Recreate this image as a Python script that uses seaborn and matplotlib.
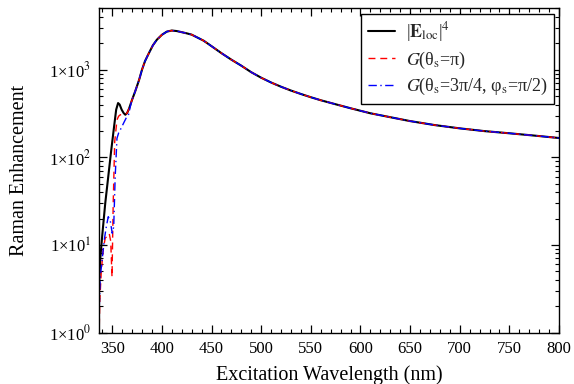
import numpy as np
import pandas as pd
import matplotlib
matplotlib.use("Agg")
import matplotlib.pyplot as plt
import matplotlib.ticker as mticker
import seaborn as sns

# ---- data ----
wl_tail = [370, 373, 377, 380, 383, 387, 391, 395, 400, 405, 410, 415, 420, 425,
           430, 442, 450, 460, 470, 480, 490, 500, 510, 520, 530, 540, 550, 560,
           575, 590, 610, 630, 650, 675, 700, 725, 750, 775, 800]
val_tail = [454, 560, 760, 1000, 1250, 1550, 1900, 2200, 2500, 2720, 2800, 2760,
            2680, 2600, 2512, 2145, 1856, 1544, 1301, 1111, 936, 810, 714, 639,
            578, 528, 485, 448, 403, 363, 318, 287, 259, 233, 214, 199, 188, 177, 166]

wl_E_head = [337, 338, 340, 343, 346, 349, 352, 354, 355.9, 357.5, 359.5, 361.5, 363.2, 365, 367]
E_head = [4, 7, 13, 30, 60, 120, 230, 350, 416, 400, 350, 320, 306, 320, 360]

wl_R_head = [337, 337.5, 339, 341, 343, 345, 347, 348.5, 349.8, 351, 352.5, 354.8, 356.5, 358.2, 361, 363.2, 365, 367]
R_head = [1.2, 2.3, 5, 9, 12, 12.5, 13.5, 11, 4.3, 30, 150, 268, 295, 306, 305, 308, 320, 360]

wl_B_head = [337, 338, 340, 342, 344, 346, 348, 350, 351.5, 353, 354.8, 356.5, 359, 361.5, 364, 366.6, 368]
B_head = [2, 4.3, 7, 11.4, 16, 21, 19, 13.6, 16, 60, 165, 190, 215, 246, 280, 310, 370]

labels = [r'|$\mathbf{E}_{\rm loc}$|$^4$',
          r'$G$(θ$_{\rm s}$=π)',
          r'$G$(θ$_{\rm s}$=3π/4, φ$_{\rm s}$=π/2)']
xticks = [350, 400, 450, 500, 550, 600, 650, 700, 750, 800]
ydecades = [0, 1, 2, 3]

# ---- style ----
sns.set_theme(style="ticks")
plt.rcParams['font.family'] = ['Liberation Serif', 'DejaVu Serif']
plt.rcParams['mathtext.fontset'] = 'stix'

fig = plt.figure(figsize=(5.74, 3.84), dpi=100)
ax = fig.add_axes([0.173, 0.134, 0.801, 0.844])

df_E = pd.DataFrame({'wl': wl_E_head + wl_tail, 'v': E_head + val_tail})
df_R = pd.DataFrame({'wl': wl_R_head + wl_tail, 'v': R_head + val_tail})
df_B = pd.DataFrame({'wl': wl_B_head + wl_tail, 'v': B_head + val_tail})

sns.lineplot(data=df_E, x='wl', y='v', ax=ax, color='black', lw=1.5,
             sort=False, estimator=None, label=labels[0])
sns.lineplot(data=df_R, x='wl', y='v', ax=ax, color='red', lw=1.0,
             sort=False, estimator=None, label=labels[1])
ax.lines[-1].set_linestyle((0, (5, 3.5)))
sns.lineplot(data=df_B, x='wl', y='v', ax=ax, color='blue', lw=1.0,
             sort=False, estimator=None, label=labels[2])
ax.lines[-1].set_linestyle((0, (6, 2.5, 1, 2.5)))

ax.set_yscale('log')
ax.set_xlim(337, 800)
ax.set_ylim(1, 5000)
ax.set_xticks(xticks)
ax.xaxis.set_minor_locator(mticker.MultipleLocator(10))
ax.set_yticks([10.0 ** d for d in ydecades])
ax.yaxis.set_major_formatter(mticker.FuncFormatter(
    lambda v, p: '1×10$^{%d}$' % int(round(np.log10(v)))))
ax.yaxis.set_minor_locator(mticker.LogLocator(base=10, subs=np.arange(2, 10)))
ax.yaxis.set_minor_formatter(mticker.NullFormatter())

ax.tick_params(which='both', direction='in', top=True, right=True, colors='black',
               labelsize=12)
ax.tick_params(which='major', length=6, width=0.9)
ax.tick_params(which='minor', length=3, width=0.8)
ax.tick_params(axis='x', which='major', pad=6)
ax.tick_params(axis='y', which='major', pad=6)
for s in ax.spines.values():
    s.set_color('black')
    s.set_linewidth(1.0)

ax.set_xlabel('Excitation Wavelength (nm)', fontsize=14.5, color='black', labelpad=6)
ax.set_ylabel('Raman Enhancement', fontsize=14.5, color='black', labelpad=14)

leg = ax.legend(loc='upper right', fontsize=13, frameon=True, fancybox=False,
                edgecolor='black', framealpha=1, handlelength=1.5,
                borderaxespad=0.3, labelspacing=0.3, handletextpad=0.6,
                borderpad=0.35)
leg.get_frame().set_linewidth(1.0)

fig.savefig('out.png', dpi=100)
